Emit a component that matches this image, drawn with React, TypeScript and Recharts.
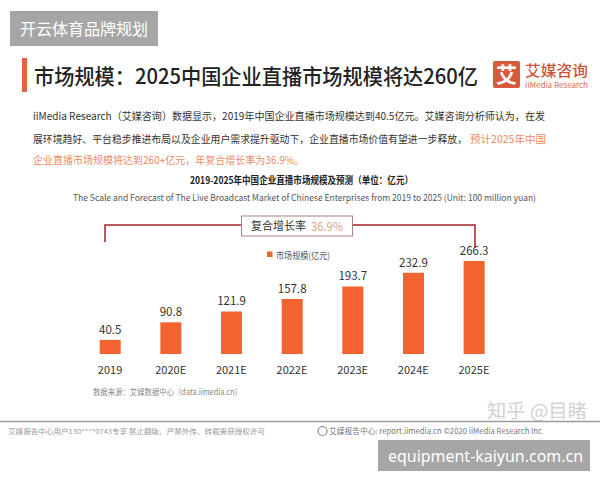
import React from 'react';
import { BarChart, Bar, XAxis, YAxis, LabelList } from 'recharts';

// Market size of China's enterprise live-broadcast market, 2019-2025 (unit: 100 million yuan)
const years = ['2019', '2020E', '2021E', '2022E', '2023E', '2024E', '2025E'];
const marketSize = [40.5, 90.8, 121.9, 157.8, 193.7, 232.9, 266.3];
const seriesName = '市场规模(亿元)';
const cagrLabel = '复合增长率';
const cagrValue = '36.9%';

const data = years.map((year, i) => ({ year, value: marketSize[i] }));

const CJK = '"Noto Sans CJK SC", "Noto Sans", sans-serif';
const BAR_COLOR = '#f26330';
const SQ = 'spacingAndGlyphs';

export default function App() {
  return (
    <div style={{ position: 'absolute', left: 0, top: 0, width: 600, height: 480, background: '#fff', overflow: 'hidden' }}>
      <BarChart
        width={600}
        height={480}
        data={data}
        margin={{ top: 249.3, right: 95.7, bottom: 96, left: 79.7 }}
        style={{ position: 'absolute', left: 0, top: 0 }}
      >
        <XAxis
          dataKey="year"
          axisLine={false}
          tickLine={false}
          interval={0}
          tickMargin={6}
          height={30}
          tick={{ fontSize: 11, fill: '#333', fontFamily: CJK }}
        />
        <YAxis hide domain={[0, 300]} />
        <Bar dataKey="value" name={seriesName} fill={BAR_COLOR} barSize={21} isAnimationActive={false}>
          <LabelList dataKey="value" position="top" offset={6} fill="#333" fontSize={11.5} fontFamily={CJK} />
        </Bar>
      </BarChart>

      <svg width={600} height={480} style={{ position: 'absolute', left: 0, top: 0, pointerEvents: 'none' }} fontFamily={CJK}>
        {/* brand tag */}
        <rect x={10} y={11} width={148} height={35} fill="#a6a6a6" />
        <text x={20} y={34.5} fontSize={16} fill="#fff" textLength={128} lengthAdjust={SQ}>开云体育品牌规划</text>

        {/* heading */}
        <rect x={22} y={58} width={5} height={34} fill="#e0643c" />
        <text x={34} y={84} fontSize={21} fontWeight={500} fill="#222" textLength={444} lengthAdjust={SQ}>市场规模：2025中国企业直播市场规模将达260亿</text>

        {/* logo */}
        <rect x={493} y={61} width={27} height={27} rx={2} fill="#d65a3c" />
        <text x={506.5} y={82} fontSize={21} fontWeight={700} fill="#fff" textAnchor="middle">艾</text>
        <text x={525} y={76} fontSize={14.5} fontWeight={500} fill="#cf5436" textLength={63} lengthAdjust={SQ}>艾媒咨询</text>
        <text x={525} y={88} fontSize={8} fill="#d06a50" textLength={63} lengthAdjust={SQ}>iiMedia Research</text>

        {/* description */}
        <text x={33} y={120} fontSize={10.5} fill="#333" textLength={512} lengthAdjust={SQ}>iiMedia Research（艾媒咨询）数据显示，2019年中国企业直播市场规模达到40.5亿元。艾媒咨询分析师认为，在发</text>
        <text x={33} y={143} fontSize={10} fill="#333" textLength={434} lengthAdjust={SQ}>展环境趋好、平台稳步推进布局以及企业用户需求提升驱动下，企业直播市场价值有望进一步释放，</text>
        <text x={470} y={143} fontSize={10.5} fill="#ef8a64" textLength={76} lengthAdjust={SQ}>预计2025年中国</text>
        <text x={33} y={164} fontSize={10.5} fill="#ef8a64" textLength={271} lengthAdjust={SQ}>企业直播市场规模将达到260+亿元，年复合增长率为36.9%。</text>

        {/* chart titles */}
        <text x={190} y={183.5} fontSize={10} fontWeight={700} fill="#222" textLength={223} lengthAdjust={SQ}>2019-2025年中国企业直播市场规模及预测（单位：亿元）</text>
        <text x={73} y={200.5} fontSize={9} fill="#555" textLength={463} lengthAdjust={SQ}>The Scale and Forecast of The Live Broadcast Market of Chinese Enterprises from 2019 to 2025 (Unit: 100 million yuan)</text>

        {/* CAGR bracket */}
        <path d="M105 242 V225 H241.5 M352.5 225 H475 V248" stroke="#a3212b" strokeWidth={1.5} fill="none" />
        <rect x={241.5} y={216} width={111} height={20} fill="#fff" stroke="#a88088" strokeWidth={1} />
        <text x={251} y={230} fontSize={11} fill="#333" textLength={55} lengthAdjust={SQ}>{cagrLabel}</text>
        <text x={311} y={230.5} fontSize={12} fill="#d9a48c" textLength={32} lengthAdjust={SQ}>{cagrValue}</text>

        {/* legend */}
        <rect x={267} y={251.5} width={5.5} height={5.5} fill={BAR_COLOR} />
        <text x={276} y={258.5} fontSize={9.5} fill="#555" textLength={54} lengthAdjust={SQ}>{seriesName}</text>

        {/* source */}
        <text x={93} y={395} fontSize={8.5} fill="#888" textLength={149} lengthAdjust={SQ}>数据来源：艾媒数据中心（data.iimedia.cn）</text>

        {/* watermark */}
        <text x={487} y={418} fontSize={19} fill="#d2d2d2" textLength={100} lengthAdjust={SQ}>知乎 @目睹</text>

        {/* footer */}
        <line x1={0} y1={421.5} x2={600} y2={421.5} stroke="#9c9c9c" strokeWidth={1.5} />
        <text x={8} y={434} fontSize={6.5} fill="#999" textLength={257} lengthAdjust={SQ}>艾媒报告中心用户130****0743专享 禁止翻版、严禁外传、转载需获授权许可</text>
        <circle cx={322.5} cy={431} r={4.5} fill="none" stroke="#888" strokeWidth={1.2} />
        <text x={329} y={434} fontSize={8} fill="#777" textLength={213} lengthAdjust={SQ}>艾媒报告中心: report.iimedia.cn  ©2020  iiMedia Research Inc</text>

        {/* site tag */}
        <rect x={378} y={440} width={212} height={31} fill="#a6a6a6" />
        <text x={388} y={461.5} fontSize={17} fill="#fff" textLength={195} lengthAdjust={SQ} fontFamily='"Noto Sans", sans-serif'>equipment-kaiyun.com.cn</text>
      </svg>
    </div>
  );
}
